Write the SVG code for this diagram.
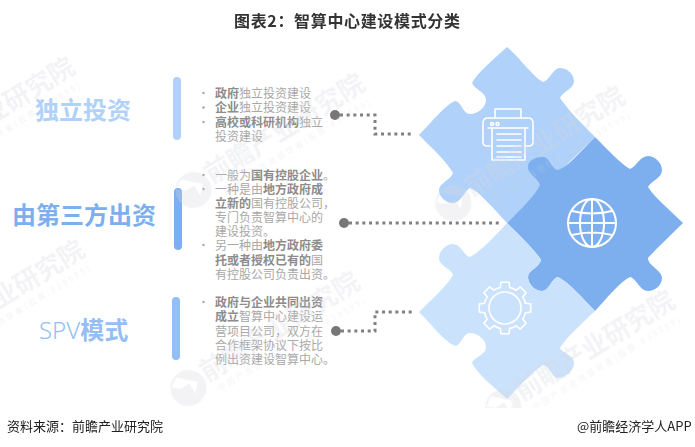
<svg xmlns="http://www.w3.org/2000/svg" width="695" height="447" viewBox="0 0 695 447">
<style>
text{font-family:"Noto Sans CJK SC","Liberation Sans",sans-serif}
.t{font-size:12px;fill:#a8a8a8}
.t tspan{font-weight:700;fill:#8c8c8c}
.b{fill:#a3a3a3}
.big{font-size:24px;font-weight:700}
.ico{fill:none;stroke:#fff;stroke-width:1.6;stroke-linejoin:round;stroke-linecap:round}
.conn{fill:none;stroke:#808080;stroke-width:3;stroke-dasharray:3 3.67}
.wm{fill:#d5d8de;opacity:.3}
.wm1{font-size:26px;font-weight:700}
.wm2{font-size:8px}
.foot{font-size:13px;fill:#222}
</style>
<defs>
<clipPath id="wc"><rect x="0" y="0" width="695" height="408"/></clipPath>
<g id="mark">
<path d="M-19,-22.600a18,18 0 1 0 .01,0ZM-24,-20L-8,-5L-16,4L-16,-8L-26,-8L-33,-14Z" fill-rule="evenodd"/>
<text class="wm1" x="0" y="0">前瞻产业研究院</text>
<text class="wm2" x="6" y="15" textLength="171" lengthAdjust="spacing">中国产业咨询领导者(股票:839599)</text>
</g>
<path id="tooth" d="M-4.700,-20.500L-4.100,-25.700L4.100,-25.700L4.700,-20.500A21,21 0 0 1 11.100,-17.800"/>
</defs>
<rect width="695" height="447" fill="#fff"/>

<g id="puzzle-print">
<path fill="#B0D1FA" d="M507,47C520,58 533,77 543,82C549,81 553,68 560,68C567,68 574,74 574,81C574,89 562,92 560,98C568,110 582,124 595,137L507,223C495,210 480,192 470,188C465,190 461,203 453,203C446,203 439,197 439,190C439,183 451,180 453,173C447,162 432,148 419,135C432,122 445,105 455,101C461,101 463,114 470,114C477,114 486,108 486,100C486,92 475,90 472,83C478,72 493,60 507,47Z"/>
<g class="ico">
<path d="M495,118V109H521V118"/>
<path d="M490,146H487Q483,146 483,142V123Q483,118 488,118H528Q533,118 533,123V142Q533,146 529,146H526"/>
<path d="M488,128H528"/>
<path d="M492,128V160H525V128"/>
<path d="M497,134H521M497,140H521M497,146H521M497,152H521M497,157H521"/>
<circle cx="492" cy="124" r="1.500"/><circle cx="497.500" cy="124" r="1.500"/>
</g>
</g>

<g id="puzzle-globe">
<path fill="#7DAFEE" d="M595,137C607,149 620,163 630,169C636,167 640,156 648,156C655,156 662,163 662,170C662,178 652,180 648,187C655,198 670,210 683,223C670,236 655,250 648,258C648,266 662,270 662,278C662,285 655,291 648,291C640,291 636,278 630,277C620,282 607,298 595,311C582,298 570,283 558,277C552,278 549,291 542,291C535,291 528,284 528,277C528,270 539,268 541,260C535,250 520,236 507,223C520,210 535,196 540,185C538,178 528,175 528,167C528,160 536,157 543,157C550,157 552,170 558,170C568,167 582,150 595,137Z"/>
<g class="ico" style="stroke-width:2">
<circle cx="592" cy="223" r="24"/>
<ellipse cx="592" cy="223" rx="12" ry="24"/>
<path d="M592,199V247M568,223H616M572,211Q592,216 612,211M572,235Q592,230 612,235"/>
</g>
</g>

<g id="puzzle-gear">
<path fill="#CBE2FD" d="M507,223C495,236 480,252 470,257C464,256 461,244 453,244C446,244 439,251 439,258C439,266 451,268 453,275C447,286 432,299 419,312C432,325 445,342 455,346C461,346 463,333 470,333C478,333 486,340 486,347C486,355 474,357 472,363C478,375 493,386 507,399C520,386 533,371 543,365C549,365 552,378 558,378C565,378 574,371 574,363C574,355 562,353 560,348C567,336 582,324 595,311C582,298 570,283 558,277C552,278 549,291 542,291C535,291 528,284 528,277C528,270 539,268 541,260C535,250 520,236 507,223Z"/>
<g class="ico" transform="translate(505,308)">
<use href="#tooth"/><use href="#tooth" transform="rotate(45)"/><use href="#tooth" transform="rotate(90)"/><use href="#tooth" transform="rotate(135)"/><use href="#tooth" transform="rotate(180)"/><use href="#tooth" transform="rotate(225)"/><use href="#tooth" transform="rotate(270)"/><use href="#tooth" transform="rotate(315)"/>
<circle r="16"/>
</g>
</g>

<g id="connectors">
<path class="conn" d="M340,115H375V134H412"/>
<path class="conn" d="M349,223H500"/>
<path class="conn" d="M341,331H375V312H412"/>
<circle cx="335" cy="115" r="5" fill="#777"/>
<circle cx="344" cy="223" r="5" fill="#777"/>
<circle cx="336" cy="331" r="5" fill="#777"/>
</g>

<g id="node-independent">
<text class="big" x="35" y="118.500" fill="#B0D1FA">独立投资</text>
<rect x="173" y="77" width="8" height="63" rx="4" fill="#B0D1FA"/>
<circle class="b" cx="203.500" cy="93" r="1.200"/><circle class="b" cx="203.500" cy="107.500" r="1.200"/><circle class="b" cx="203.500" cy="122" r="1.200"/>
<text class="t" x="215" y="97.500"><tspan>政府</tspan>独立投资建设</text>
<text class="t" x="215" y="112"><tspan>企业</tspan>独立投资建设</text>
<text class="t" x="215" y="126.500"><tspan>高校或科研机构</tspan>独立</text>
<text class="t" x="215" y="141">投资建设</text>
</g>

<g id="node-third-party">
<text class="big" x="12" y="223.500" fill="#7DAFEE">由第三方出资</text>
<rect x="174" y="188" width="8" height="62" rx="4" fill="#7DAFEE"/>
<circle class="b" cx="203.500" cy="175" r="1.200"/><circle class="b" cx="203.500" cy="189" r="1.200"/><circle class="b" cx="203.500" cy="245" r="1.200"/>
<text class="t" x="215" y="179.500">一般为<tspan>国有控股企业</tspan>。</text>
<text class="t" x="215" y="193.500">一种是由<tspan>地方政府成</tspan></text>
<text class="t" x="215" y="207.500"><tspan>立新的</tspan>国有控股公司，</text>
<text class="t" x="215" y="221.500">专门负责智算中心的</text>
<text class="t" x="215" y="236">建设投资。</text>
<text class="t" x="215" y="250">另一种由<tspan>地方政府委</tspan></text>
<text class="t" x="215" y="264.500"><tspan>托或者授权已有的</tspan>国</text>
<text class="t" x="215" y="278.500">有控股公司负责出资。</text>
</g>

<g id="node-spv">
<text class="big" x="39" y="338.500" fill="#93BEF6"><tspan font-weight="300" style="font-family:'Noto Sans','Liberation Sans',sans-serif">SPV</tspan>模式</text>
<rect x="172" y="297" width="8" height="63" rx="4" fill="#93BEF6"/>
<circle class="b" cx="203.500" cy="302" r="1.200"/>
<text class="t" x="215" y="306.500"><tspan>政府与企业共同出资</tspan></text>
<text class="t" x="215" y="321"><tspan>成立</tspan>智算中心建设运</text>
<text class="t" x="215" y="335.500">营项目公司，双方在</text>
<text class="t" x="215" y="349.500">合作框架协议下按比</text>
<text class="t" x="215" y="364">例出资建设智算中心。</text>
</g>

<g id="watermarks" clip-path="url(#wc)">
<g class="wm">
<use href="#mark" transform="translate(472,197) rotate(-31.600)"/>
<use href="#mark" transform="translate(522,401) rotate(-31.600)"/>
<use href="#mark" transform="translate(212,184) rotate(-31.600)"/>
<use href="#mark" transform="translate(207,382) rotate(-31.600)"/>
<use href="#mark" transform="translate(-78,167) rotate(-31.600)"/>
<use href="#mark" transform="translate(-68,350) rotate(-31.600)"/>
</g>
</g>

<text id="title" x="234" y="26.500" font-size="16" font-weight="700" fill="#333" textLength="226" lengthAdjust="spacing">图表2：智算中心建设模式分类</text>
<text class="foot" x="7" y="431">资料来源：前瞻产业研究院</text>
<text class="foot" x="577" y="431">@前瞻经济学人APP</text>
</svg>
